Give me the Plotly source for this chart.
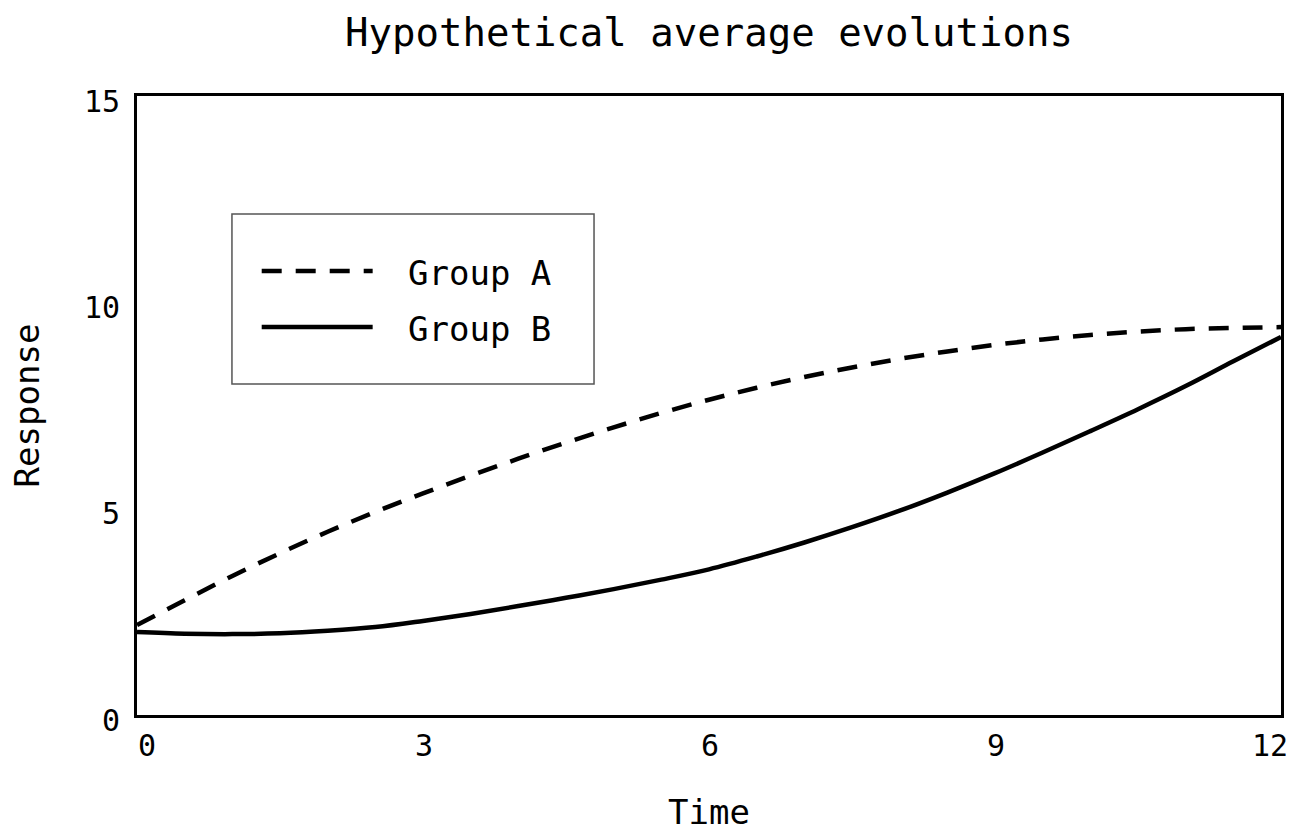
import plotly.graph_objects as go

# ---- data ----
time = [0, 0.5, 1, 1.5, 2, 2.5, 3, 3.5, 4, 4.5, 5, 5.5, 6, 6.5, 7, 7.5, 8, 8.5,
        9, 9.5, 10, 10.5, 11, 11.5, 12]
group_a = [2.18, 2.78, 3.37, 3.92, 4.44, 4.92, 5.37, 5.80, 6.21, 6.60, 6.97, 7.32,
           7.64, 7.93, 8.19, 8.42, 8.63, 8.81, 8.97, 9.10, 9.21, 9.29, 9.35, 9.38, 9.40]
group_b = [2.01, 1.97, 1.96, 1.98, 2.04, 2.13, 2.28, 2.45, 2.64, 2.84, 3.05, 3.28,
           3.53, 3.84, 4.18, 4.55, 4.95, 5.39, 5.86, 6.36, 6.88, 7.41, 7.97, 8.57, 9.16]
x_ticks = [0, 3, 6, 9, 12]
y_ticks = [0, 5, 10, 15]
series_names = ["Group A", "Group B"]

FONT = "DejaVu Sans Mono"
DASH = "20px,14px"

fig = go.Figure()
fig.add_trace(go.Scatter(x=time, y=group_a, mode="lines", name=series_names[0],
                         line=dict(color="black", width=4.5, dash=DASH, shape="spline"),
                         showlegend=False))
fig.add_trace(go.Scatter(x=time, y=group_b, mode="lines", name=series_names[1],
                         line=dict(color="black", width=4.5, shape="spline"),
                         showlegend=False))

# custom legend box (paper coordinates)
lx0, lx1, ly0, ly1 = 0.083, 0.3995, 0.5347, 0.8094
fig.add_shape(type="rect", xref="paper", yref="paper", x0=lx0, x1=lx1, y0=ly0, y1=ly1,
              line=dict(color="#555555", width=1.5), fillcolor="white", layer="below")
legend_rows = [(0.7173, DASH), (0.6268, "solid")]
for (yy, dash), name in zip(legend_rows, series_names):
    fig.add_shape(type="line", xref="paper", yref="paper", x0=0.109, x1=0.206, y0=yy, y1=yy,
                  line=dict(color="black", width=4.5, dash=dash))
    fig.add_annotation(xref="paper", yref="paper", x=0.2355, y=yy, yshift=-2, text=name,
                       showarrow=False, xanchor="left", yanchor="middle",
                       font=dict(family=FONT, size=34, color="black"))

# x tick labels (end labels pulled inside as in the reference)
for t in x_ticks:
    shift = 10 if t == x_ticks[0] else (-11 if t == x_ticks[-1] else 1)
    fig.add_annotation(x=t, xref="x", y=0, yref="paper", yshift=-30, xshift=shift,
                       text=str(t), showarrow=False, xanchor="center", yanchor="middle",
                       font=dict(family=FONT, size=30, color="black"))

fig.update_layout(
    width=1299, height=835,
    margin=dict(l=137, r=18, t=96, b=120),
    paper_bgcolor="white", plot_bgcolor="white",
    title=dict(text="Hypothetical average evolutions", x=0.5, xref="paper",
               y=1 - 32 / 835, yref="container", xanchor="center", yanchor="middle",
               font=dict(family=FONT, size=39, color="black")),
    font=dict(family=FONT, color="black"),
)
fig.update_xaxes(range=[0, 12], showgrid=False, zeroline=False, showline=True,
                 linecolor="black", linewidth=3, mirror=True, ticks="",
                 tickvals=x_ticks, showticklabels=False,
                 title=dict(text="Time", font=dict(family=FONT, size=34), standoff=84))
fig.update_yaxes(range=[0, 15], showgrid=False, zeroline=False, showline=True,
                 linecolor="black", linewidth=3, mirror=True, ticks="",
                 tickvals=y_ticks, ticktext=[str(v) for v in y_ticks],
                 tickfont=dict(family=FONT, size=30), ticklabelstandoff=8,
                 ticklabelshift=5,
                 title=dict(text="Response", font=dict(family=FONT, size=34), standoff=34))

fig.write_html("out.html")
